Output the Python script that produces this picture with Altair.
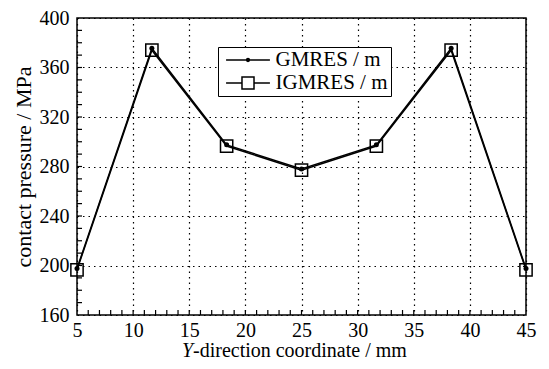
import altair as alt
import pandas as pd

# ---- data ----
x_coord = [5, 11.67, 18.33, 25, 31.67, 38.33, 45]
gmres = [197.5, 375.5, 297.5, 278.0, 297.5, 375.5, 197.5]
igmres = [196.5, 374.0, 296.5, 277.0, 296.5, 374.0, 196.5]
series_names = ["GMRES / m", "IGMRES / m"]
x_ticks = [5, 10, 15, 20, 25, 30, 35, 40, 45]
y_ticks = [160, 200, 240, 280, 320, 360, 400]
x_minor = list(range(6, 45))
y_minor = list(range(170, 400, 10))

FONT = "Liberation Serif"
W, H = 449, 297

df = pd.DataFrame({"x": x_coord * 2,
                   "y": gmres + igmres,
                   "series": [series_names[0]] * len(x_coord) + [series_names[1]] * len(x_coord)})
df_g = df[df.series == series_names[0]]
df_i = df[df.series == series_names[1]]

xs = alt.Scale(domain=[5, 45], nice=False, zero=False)
ys = alt.Scale(domain=[160, 400], nice=False, zero=False)

x_axis = alt.Axis(values=x_ticks, title=None, grid=True, ticks=False, domain=False,
                  labelFont=FONT, labelFontSize=20, labelColor="black", labelPadding=5,
                  gridColor="black", gridDash=[1.5, 4], gridWidth=1.2, labelFlush=False)
y_axis = alt.Axis(values=y_ticks, title="contact pressure / MPa", grid=True, ticks=False, domain=False,
                  labelFont=FONT, labelFontSize=20, labelColor="black", labelPadding=8,
                  titleFont=FONT, titleFontSize=22, titleFontWeight="normal", titleColor="black",
                  titlePadding=4, gridColor="black", gridDash=[1.5, 4], gridWidth=1.2, labelFlush=False)

X = lambda f: alt.X(f, scale=xs, axis=x_axis)
Y = lambda f: alt.Y(f, scale=ys, axis=y_axis)

line_g = alt.Chart(df_g).mark_line(color="black", strokeWidth=1.5).encode(x=X("x:Q"), y=Y("y:Q"))
line_i = alt.Chart(df_i).mark_line(color="black", strokeWidth=1.5).encode(x=X("x:Q"), y=Y("y:Q"))
pts_g = alt.Chart(df_g).mark_point(shape="circle", filled=True, color="black", size=25, opacity=1).encode(
    x=X("x:Q"), y=Y("y:Q"))
pts_i = alt.Chart(df_i).mark_point(shape="square", filled=False, color="black", size=150,
                                   strokeWidth=1.5, opacity=1).encode(x=X("x:Q"), y=Y("y:Q"))

# minor ticks (inside)
xt = alt.Chart(pd.DataFrame({"x": x_minor})).mark_rule(color="black", strokeWidth=1.2).encode(
    x=X("x:Q"), y=alt.value(H), y2=alt.value(H - 5))
yt = alt.Chart(pd.DataFrame({"y": y_minor})).mark_rule(color="black", strokeWidth=1.2).encode(
    y=Y("y:Q"), x=alt.value(0), x2=alt.value(5))

# legend (drawn from scale domain; layer has no visible rows)
sym_g = "M-3.1,0L3.1,0M0.2,0A0.2,0.2,0,1,1,-0.2,0A0.2,0.2,0,1,1,0.2,0Z"
sym_i = "M-3.1,0L-0.85,0M0.85,0L3.1,0M-0.85,-0.85L0.85,-0.85L0.85,0.85L-0.85,0.85Z"
leg = alt.Chart(df).transform_filter("datum.x > 1000").mark_point(filled=False, color="black", opacity=1).encode(
    shape=alt.Shape("series:N",
                    scale=alt.Scale(domain=series_names, range=[sym_g, sym_i]),
                    legend=alt.Legend(title=None, orient="none", legendX=141, legendY=29,
                                      strokeColor="black", fillColor="white", padding=2.5,
                                      labelFont=FONT, labelFontSize=21, labelColor="black",
                                      symbolSize=200, symbolStrokeWidth=1.5, symbolOpacity=1,
                                      symbolStrokeColor="black", rowPadding=1,
                                      symbolOffset=17, labelOffset=17)))

# x-axis title with italic Y
one = pd.DataFrame({"a": [0]})
t_y = alt.Chart(one).mark_text(text="Y", font=FONT, fontSize=20, fontStyle="italic", align="right",
                               baseline="alphabetic", color="black").encode(
    x=alt.value(116), y=alt.value(339))
t_rest = alt.Chart(one).mark_text(text="-direction coordinate / mm", font=FONT, fontSize=20,
                                  align="left", baseline="alphabetic", color="black").encode(
    x=alt.value(116), y=alt.value(339))

chart = alt.layer(line_g, line_i, pts_i, pts_g, xt, yt, leg, t_y, t_rest).properties(
    width=W, height=H,
    background="white",
    autosize=alt.AutoSizeParams(type="none"),
    padding={"left": 69, "top": 10, "right": 15, "bottom": 48},
).configure_view(stroke="black", strokeWidth=1.5).configure_axis(
    labelFont=FONT, titleFont=FONT).configure_text(font=FONT)

chart.save("out.html", embed_options={"renderer": "svg", "actions": False})
